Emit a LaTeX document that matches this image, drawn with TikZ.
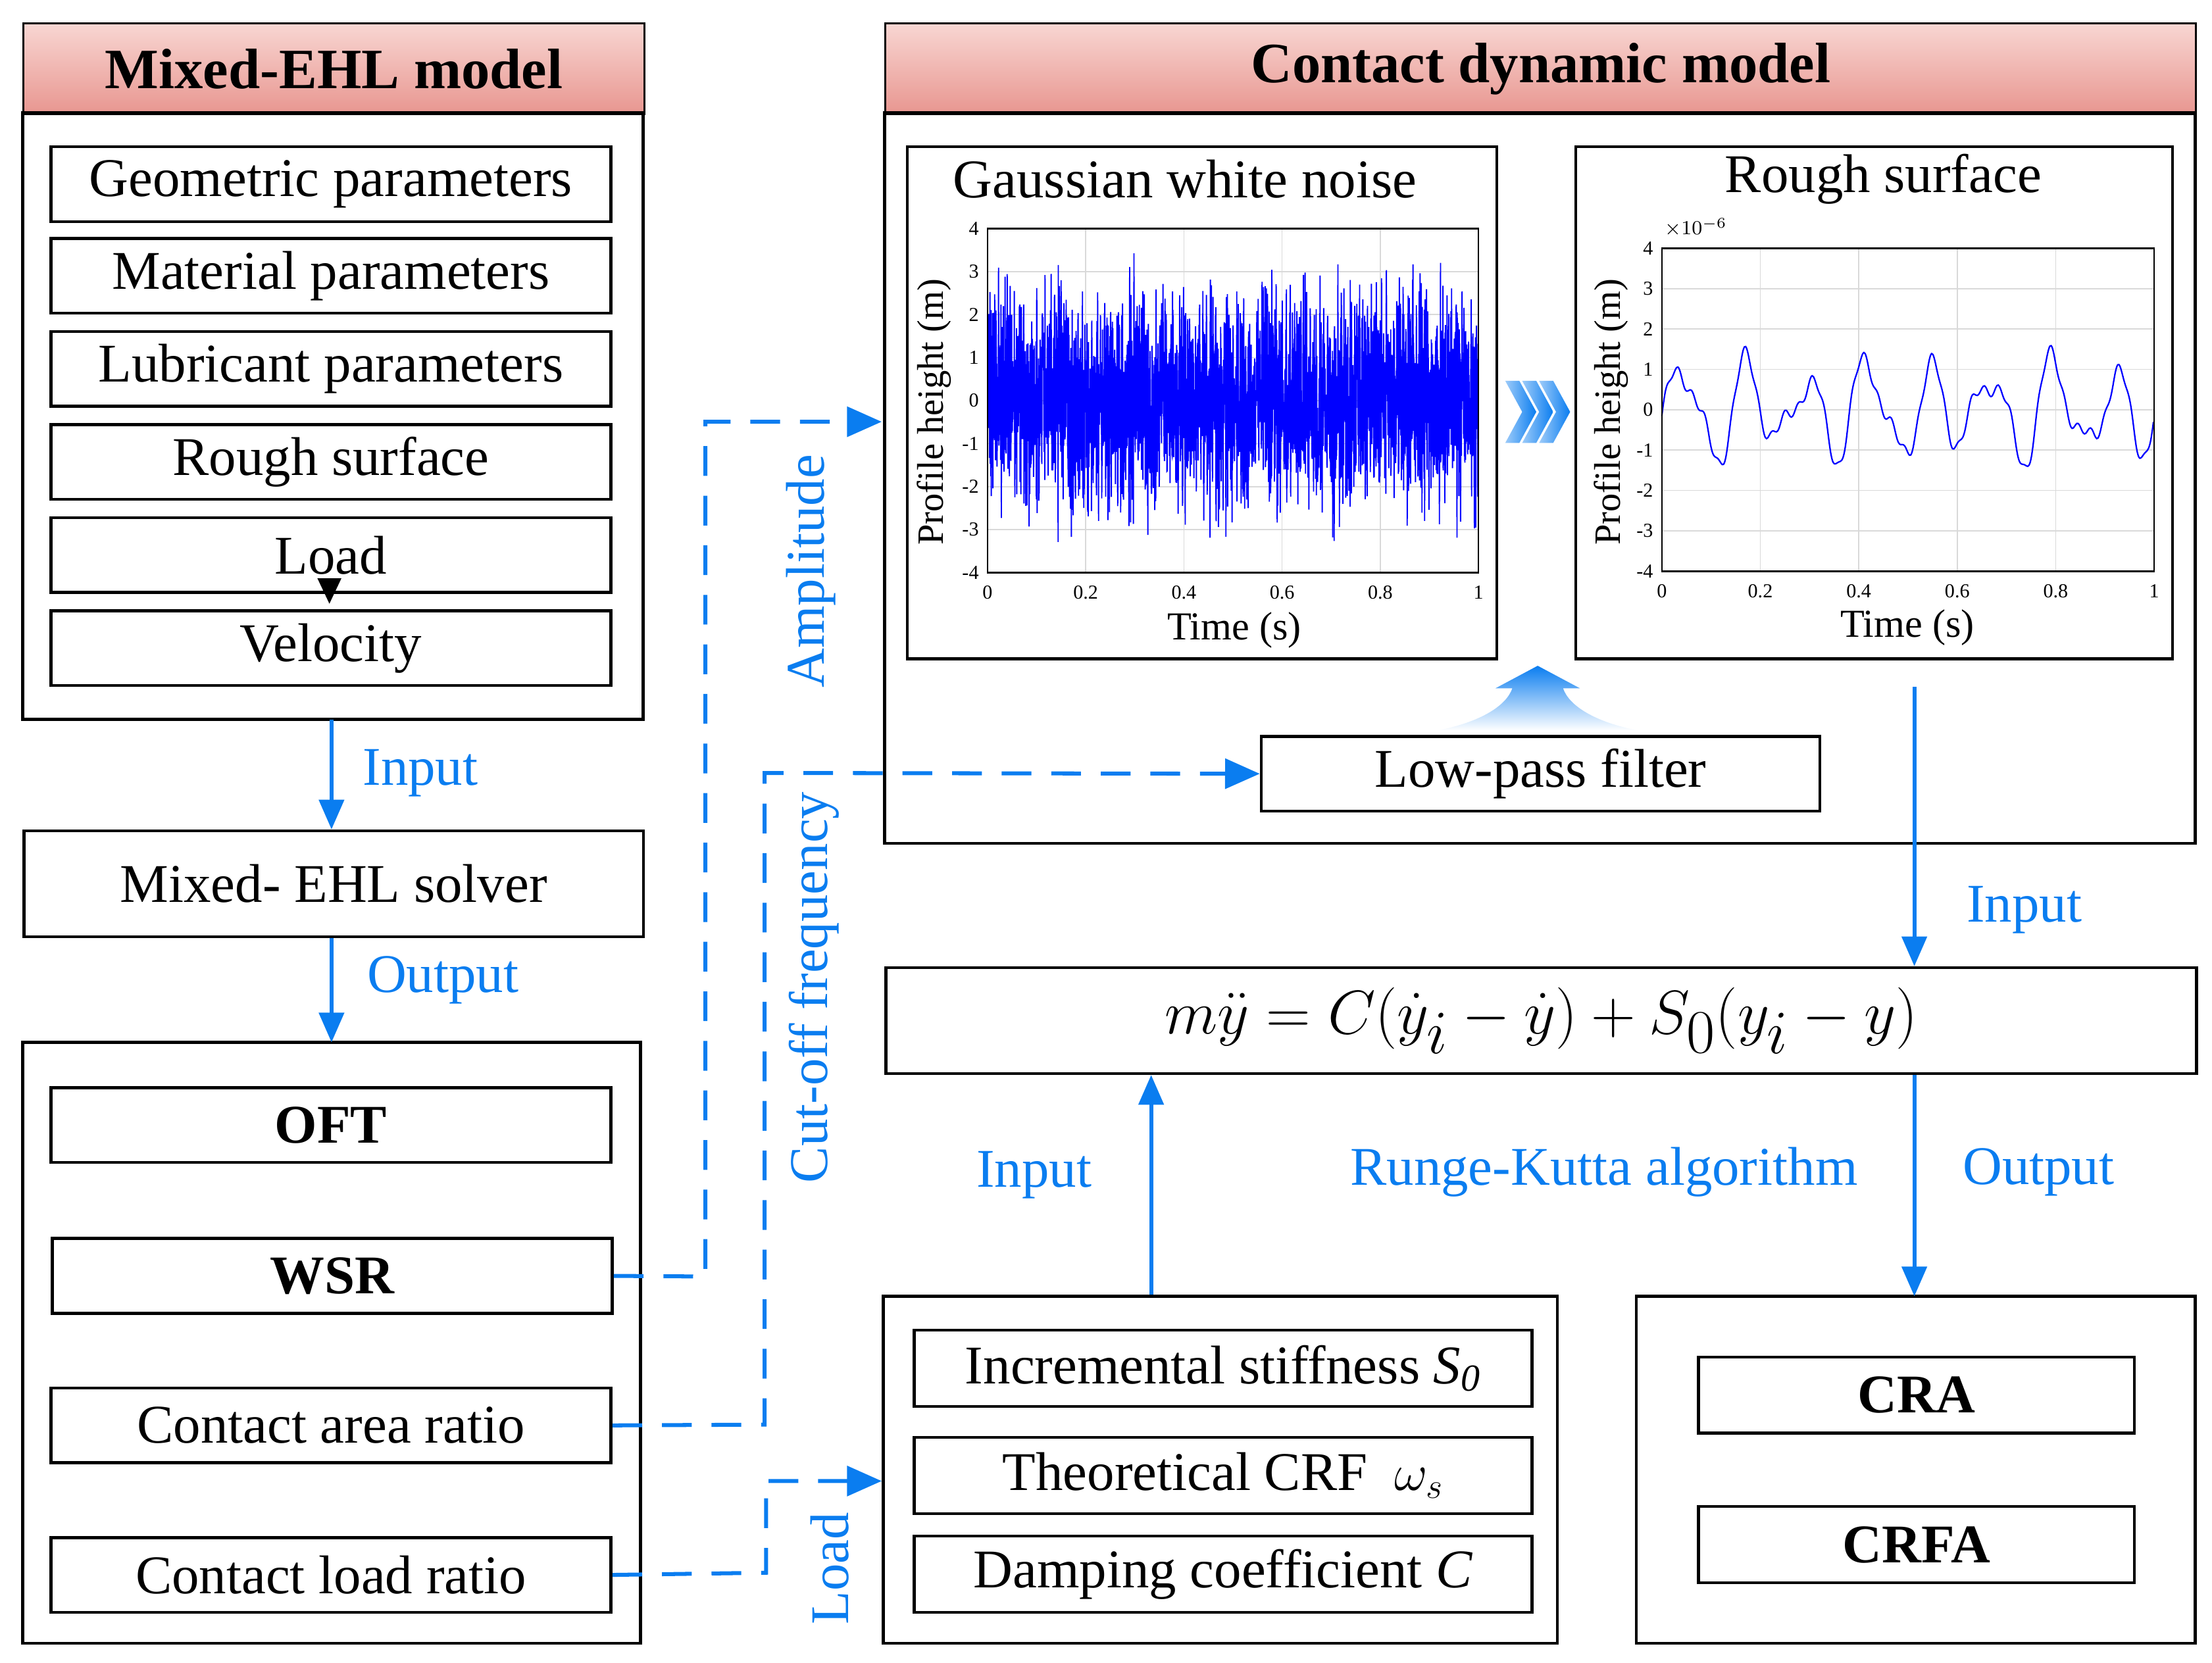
\documentclass[tikz,border=0pt]{standalone}
\usepackage{fontspec}
\setmainfont{Liberation Serif}
\usetikzlibrary{arrows.meta}
\definecolor{myblue}{RGB}{10,125,240}
\definecolor{hdtop}{RGB}{248,214,210}
\definecolor{hdbot}{RGB}{232,150,144}
\begin{document}
\begin{tikzpicture}[x=0.02cm,y=-0.02cm,
  box/.style={draw,line width=1.2pt},
  ib/.style={draw,line width=1.2pt,font=\fontsize{22}{26}\selectfont},
  ibb/.style={ib,font=\fontsize{22}{26}\selectfont\bfseries},
  hd/.style={draw,line width=0.8pt,top color=hdtop,bottom color=hdbot,font=\fontsize{23}{27}\selectfont\bfseries},
  bl/.style={myblue,font=\fontsize{22}{26}\selectfont},
  arr/.style={myblue,line width=1.6pt,-{Triangle[length=12pt,width=10pt]}},
  darr/.style={myblue,line width=1.6pt,dash pattern=on 12pt off 8pt,-{Triangle[length=14pt,width=12pt]}},
  tk/.style={font=\fontsize{8}{9}\selectfont},
  grd/.style={gray!30,line width=0.4pt}]
\useasboundingbox (0,0) rectangle (1568,1178.6);
% left top
\node[hd,minimum width=440*0.02cm,minimum height=64*0.02cm,anchor=north west] (h1) at (16,16) {Mixed-EHL model};
\draw[box] (16,80) rectangle (456,510); \coordinate (lt) at (235,510);
\foreach \y/\t/\n in {103/Geometric parameters/g1,168/Material parameters/g2,234/Lubricant parameters/g3,300/Rough surface/g4,366/Load/g5,432/Velocity/g6}
  \node[ib,minimum width=397*0.02cm,minimum height=53*0.02cm,anchor=north west] (\n) at (35,\y) {\t};
\fill (225,410) -- (242,410) -- (233.5,428) -- cycle;
\node[ib,minimum width=439*0.02cm,minimum height=75*0.02cm,anchor=north west] (sol) at (16,588) {Mixed- EHL solver};
\draw[arr] (lt) -- (sol.north -| lt);
\node[bl] at (298,548) {Input};
\draw[box] (16,739) rectangle (454,1165); \coordinate (lb) at (235,739);
\draw[arr] (sol.south -| lb) -- (lb);
\node[bl] at (314,695) {Output};
\node[ibb,minimum width=397*0.02cm,minimum height=53*0.02cm,anchor=north west] (oft) at (35,770) {OFT};
\node[ibb,minimum width=397*0.02cm,minimum height=53*0.02cm,anchor=north west] (wsr) at (36,877) {WSR};
\node[ib,minimum width=397*0.02cm,minimum height=53*0.02cm,anchor=north west] (car) at (35,983) {Contact area ratio};
\node[ib,minimum width=397*0.02cm,minimum height=53*0.02cm,anchor=north west] (clr) at (35,1089) {Contact load ratio};
% right top
\node[hd,minimum width=929*0.02cm,minimum height=64*0.02cm,anchor=north west] (h2) at (627,16) {Contact dynamic model};
\draw[box] (627,80) rectangle (1556,598);
\node[box,minimum width=418*0.02cm,minimum height=363*0.02cm,anchor=north west] (gw) at (642,103) {};
\node[box,minimum width=423*0.02cm,minimum height=363*0.02cm,anchor=north west] (rs) at (1116,103) {};
\node[font=\fontsize{22}{26}\selectfont] at (840,127) {Gaussian white noise};
\node[font=\fontsize{22}{26}\selectfont] at (1335,127) {Rough surface};
% plot 1
\foreach \i in {0,...,5} \draw[grd] (700+\i*69.6,162) -- (700+\i*69.6,406);
\foreach \i in {-3,...,3} \draw[grd] (700,284-\i*30.5) -- (1048,284-\i*30.5);
\pgfmathsetseed{7}
\begin{scope}
\clip (700,162) rectangle (1048,406);
\draw[blue,line width=0.5pt] plot[samples=2600,domain=0:1] ({700+348*\x},{284-30.5*1.25*(rand+rand+rand)});
\end{scope}
\draw[line width=0.6pt] (700,162) rectangle (1048,406);
\foreach \v/\l in {0/0,1/0.2,2/0.4,3/0.6,4/0.8,5/1} \node[tk,below] at (700+\v*69.6,409) {\l};
\foreach \v in {-4,...,4} \node[tk,left] at (700,284-\v*30.5) {\v};
\node[font=\fontsize{16}{18}\selectfont] at (875,447) {Time (s)};
\node[font=\fontsize{15}{17}\selectfont,rotate=90] at (662,292) {Profile height (m)};
% plot 2
\foreach \i in {0,...,5} \draw[grd] (1178+\i*69.8,176) -- (1178+\i*69.8,405);
\foreach \i in {-3,...,3} \draw[grd] (1178,290.5-\i*28.6) -- (1527,290.5-\i*28.6);
\draw[blue,line width=0.6pt] plot[samples=400,domain=0:1,smooth] ({1178+349*\x},{290.5-28.6*(0.95*sin(8*360*\x-40)+0.45*sin(13*360*\x+30)+0.25*sin(5*360*\x+70)+0.12*sin(37*360*\x))});
\draw[line width=0.6pt] (1178,176) rectangle (1527,405);
\foreach \v/\l in {0/0,1/0.2,2/0.4,3/0.6,4/0.8,5/1} \node[tk,below] at (1178+\v*69.8,408) {\l};
\foreach \v in {-4,...,4} \node[tk,left] at (1178,290.5-\v*28.6) {\v};
\node[tk,anchor=south west] at (1174,174) {$\times10^{-6}$};
\node[font=\fontsize{16}{18}\selectfont] at (1352,445) {Time (s)};
\node[font=\fontsize{15}{17}\selectfont,rotate=90] at (1142,292) {Profile height (m)};
% chevrons
\foreach \dx in {0,12,24}
  \shade[left color=myblue!40,right color=myblue] (1067+\dx,270) -- (1077+\dx,270) -- (1089+\dx,292) -- (1077+\dx,314) -- (1067+\dx,314) -- (1079+\dx,292) -- cycle;
% low pass
\node[ib,minimum width=396*0.02cm,minimum height=53*0.02cm,anchor=north west] (lp) at (893,521) {Low-pass filter};
\shade[top color=myblue,bottom color=white] (1018,518) .. controls (1050,512) and (1068,500) .. (1072,488) -- (1060,488) -- (1090,472) -- (1120,488) -- (1108,488) .. controls (1112,500) and (1130,512) .. (1162,518) -- cycle;
% equation
\node[box,minimum width=929*0.02cm,minimum height=75*0.02cm,anchor=north west,font=\fontsize{34}{38}\selectfont] (eq) at (627,685) {$m\ddot{y}=C(\dot{y}_i-\dot{y})+S_0(y_i-y)$};
\coordinate (rsb) at (1357,487);
\draw[arr] (rsb) -- (eq.north -| rsb);
\node[bl] at (1435,645) {Input};
% bottom left
\draw[box] (626,919) rectangle (1104,1165);
\node[ib,minimum width=438*0.02cm,minimum height=54*0.02cm,anchor=north west] (is) at (647,942) {Incremental stiffness \textit{S\textsubscript{0}}};
\node[ib,minimum width=438*0.02cm,minimum height=54*0.02cm,anchor=north west] (tc) at (647,1018) {Theoretical CRF\ \ $\omega_s$};
\node[ib,minimum width=438*0.02cm,minimum height=54*0.02cm,anchor=north west] (dc) at (647,1088) {Damping coefficient \textit{C}};
\coordinate (bi) at (816,918);
\draw[arr] (bi) -- (eq.south -| bi);
\node[bl] at (733,833) {Input};
\node[bl] at (1137,831) {Runge-Kutta algorithm};
% bottom right
\draw[box] (1160,919) rectangle (1556,1165);
\coordinate (br) at (1357,919);
\draw[arr] (eq.south -| br) -- (br);
\node[bl] at (1445,831) {Output};
\node[ibb,minimum width=309*0.02cm,minimum height=54*0.02cm,anchor=north west] (cra) at (1203,961) {CRA};
\node[ibb,minimum width=309*0.02cm,minimum height=54*0.02cm,anchor=north west] (crfa) at (1203,1067) {CRFA};
% dashed
\coordinate (amp) at (625,299);
\coordinate (lda) at (625,1050);
\draw[darr] (wsr.east) -- (500,905) -- (500,299) -- (amp);
\draw[darr] (car.east) -- (542,1010) -- (542,548) -- (lp.west);
\draw[darr] (clr.east) -- (543,1115) -- (543,1050) -- (lda);
\node[bl,rotate=90] at (575,405) {Amplitude};
\node[bl,rotate=90] at (577,700) {Cut-off frequency};
\node[bl,rotate=90] at (588,1112) {Load};
\end{tikzpicture}
\end{document}
